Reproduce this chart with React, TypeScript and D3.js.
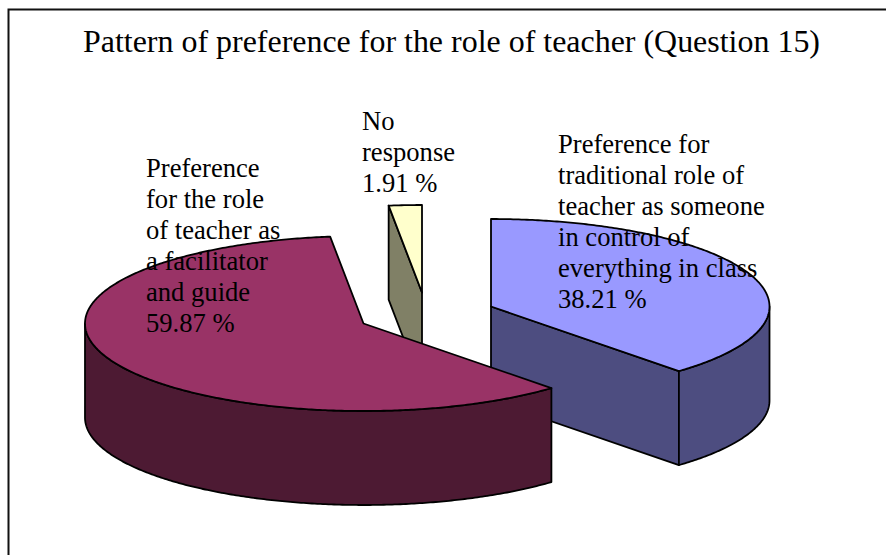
import React from "react";
import * as d3 from "d3";

const categories = ["Traditional", "Facilitator", "No response"];
const sliceValues = [38.21, 59.87, 1.91];
const topColors = ["#9999ff", "#993366", "#ffffcc"];
const sideColors = ["#4d4d80", "#4d1a33", "#808066"];
const titleText = "Pattern of preference for the role of teacher (Question 15)";
const labelLines = [
  ["Preference for", "traditional role of", "teacher as someone", "in control of", "everything in class", "38.21 %"],
  ["Preference", "for the role", "of teacher as", "a facilitator", "and guide", "59.87 %"],
  ["No", "response", "1.91 %"],
];

const W = 886, H = 555;
const RX = 278.5, RY = 87.5, DEPTH = 94;
const centers: [number, number][] = [[491, 306.5], [363.5, 323.5], [422, 292.5]];
const labelPos: [number, number][] = [[558, 153], [146, 177], [362, 130]];
const LH = 31;
const drawOrder = [2, 0, 1];

const pie = d3.pie<number>().sort(null).startAngle(0).endAngle(2 * Math.PI);
const arcs = pie(sliceValues);
const line = d3.line();

function pt(c: [number, number], a: number, dy = 0): [number, number] {
  return [c[0] + RX * Math.sin(a), c[1] - RY * Math.cos(a) + dy];
}
function arcPts(c: [number, number], a0: number, a1: number, dy = 0) {
  const n = Math.max(2, Math.ceil(Math.abs(a1 - a0) / 0.01));
  return d3.range(n + 1).map((i) => pt(c, a0 + ((a1 - a0) * i) / n, dy));
}

function Slice({ i }: { i: number }) {
  const { startAngle: a0, endAngle: a1 } = arcs[i];
  const c = centers[i];
  const down: [number, number] = [c[0], c[1] + DEPTH];
  const w0 = Math.max(a0, Math.PI / 2);
  const w1 = Math.min(a1, (3 * Math.PI) / 2);
  const common = { stroke: "#000", strokeWidth: 1.8, strokeLinejoin: "round" as const };
  return (
    <g>
      {Math.sin(a1) > 1e-6 && (
        <path d={line([c, pt(c, a1), pt(c, a1, DEPTH), down])! + "Z"} fill={sideColors[i]} {...common} />
      )}
      {Math.sin(a0) < -1e-6 && (
        <path d={line([c, pt(c, a0), pt(c, a0, DEPTH), down])! + "Z"} fill={sideColors[i]} {...common} />
      )}
      {w1 > w0 && (
        <path
          d={line([...arcPts(c, w0, w1), ...arcPts(c, w1, w0, DEPTH)])! + "Z"}
          fill={sideColors[i]}
          {...common}
        />
      )}
      <path d={line([c, ...arcPts(c, a0, a1)])! + "Z"} fill={topColors[i]} {...common} />
    </g>
  );
}

export default function App() {
  return (
    <svg
      width={W}
      height={H}
      viewBox={`0 0 ${W} ${H}`}
      style={{ position: "fixed", left: 0, top: 0, background: "#fff" }}
      fontFamily="'Liberation Serif', serif"
      fill="#000"
    >
      <path d={`M8.5 ${H}V9.5H${W}`} fill="none" stroke="#111" strokeWidth={2} />
      <text x={83} y={52} fontSize={32.5} textLength={737} lengthAdjust="spacingAndGlyphs">{titleText}</text>
      {drawOrder.map((i) => <Slice key={categories[i]} i={i} />)}
      {labelLines.map((lines, i) => (
        <text key={categories[i]} fontSize={26.6}>
          {lines.map((t, j) => (
            <tspan key={j} x={labelPos[i][0]} y={labelPos[i][1] + j * LH}>{t}</tspan>
          ))}
        </text>
      ))}
    </svg>
  );
}
